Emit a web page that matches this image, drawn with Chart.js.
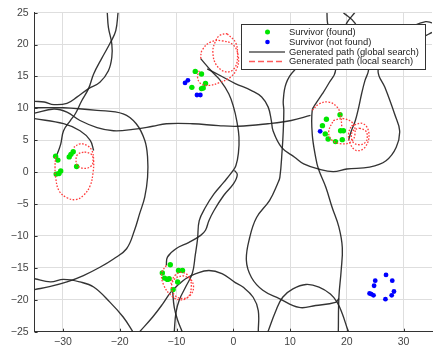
<!DOCTYPE html>
<html>
<head>
<meta charset="utf-8">
<script src="https://cdn.jsdelivr.net/npm/chart.js@4/dist/chart.umd.min.js"></script>
<style>
  html, body { margin: 0; padding: 0; background: #fff; }
  canvas { display: block; }
</style>
</head>
<body>
<canvas id="c" width="436" height="346"></canvas>
<script>
const xTicks = [-30, -20, -10, 0, 10, 20, 30];
const yTicks = [-25, -20, -15, -10, -5, 0, 5, 10, 15, 20, 25];

const legendLabels = ['Survivor (found)', 'Survivor (not found)', 'Generated path (global search)', 'Generated path (local search)'];

// survivors
const foundPts = [
  [-31.3, 2.5], [-30.9, 1.9], [-28.9, 2.4], [-28.6, 2.8], [-28.2, 3.2], [-27.6, 0.9], [-31.2, -0.3], [-30.7, -0.2], [-30.4, 0.2],
  [-6.7, 15.8], [-5.6, 15.4], [-4.9, 13.9], [-5.3, 13.2], [-5.6, 13.1], [-7.3, 13.3],
  [16.4, 8.3], [15.7, 7.3], [16.2, 6.0], [16.7, 5.2], [18.0, 4.8], [19.2, 5.1], [18.9, 6.5], [19.4, 6.5], [18.8, 9.0],
  [-11.1, -14.5], [-12.5, -15.8], [-12.1, -16.6], [-11.6, -16.8], [-11.3, -16.7], [-9.65, -15.4], [-8.95, -15.4], [-9.8, -17.2], [-10.6, -18.4]
];
const notFoundPts = [
  [-8.5, 14.0], [-8.0, 14.4], [-6.4, 12.1], [-5.8, 12.1],
  [15.3, 6.4],
  [26.9, -16.1], [28.0, -17.0], [25.0, -17.0], [24.8, -17.8], [28.3, -18.7], [27.9, -19.3], [24.0, -19.0], [24.3, -19.1], [24.7, -19.3], [26.8, -19.9]
];

// global search paths
const globalA = [[-22.2, 25], [-22.0, 22.7], [-21.4, 20.1], [-21.4, 18.0], [-22.0, 15.9], [-23.5, 14.1], [-25.5, 13.1], [-27.5, 11.8], [-29.3, 10.8], [-31.6, 10.6], [-33.3, 11.0], [-35, 11.1]];
const globalB = [[-20.3, 25], [-20.7, 22.2], [-21.6, 20.4], [-23.2, 17.8], [-24.6, 15.4], [-25.5, 13.1], [-26.7, 11.2], [-27.8, 9.2], [-28.7, 8.1], [-29.9, 6.5], [-30.4, 4.4], [-31.0, 2.9], [-31.3, 2.5]];
const globalC = [[-35, 10.1], [-29.9, 10.1], [-24.0, 9.7], [-19.4, 9.15], [-17.1, 7.6], [-15.6, 5.0], [-15.1, 2.35], [-15.1, -0.8], [-15.6, -3.9], [-16.5, -6.5], [-17.4, -9.1], [-18.8, -12.0], [-21.1, -13.6], [-23.5, -14.9], [-26.4, -16.2], [-29.3, -17.2], [-32.2, -17.9], [-35, -18.4]];
const globalD = [[-35, 9.25], [-31.6, 9.9], [-29.3, 9.4], [-27.0, 8.1], [-24.0, 7.0], [-21.1, 6.5], [-17.7, 6.7], [-14.2, 7.2], [-11.8, 7.6], [-7.2, 7.6], [-2.6, 7.3], [0.9, 7.2], [6.1, 7.6], [10.2, 8.1], [13.6, 8.9]];
const globalE = [[-35, 8.4], [-29.9, 7.6], [-27.0, 6.5], [-25.2, 5.0], [-24.6, 3.4]];
const globalF = [[-35, -16.7], [-32.2, -17.2], [-29.9, -16.8], [-27.0, -17.2], [-24.6, -18.0], [-21.7, -20.4], [-19.4, -22.7], [-17.7, -25]];
const globalG = [[16.5, 25], [16.6, 23.4], [17.5, 20], [18.0, 15.9], [16.8, 13.9], [15.7, 12.3], [14.5, 10.7], [13.9, 9.7], [13.9, 6.0], [14.5, 2.35], [15.0, 0.5], [16.3, -2.35], [17.4, -5.5], [18.6, -8.6], [19.2, -11.8], [19.0, -15.4], [18.6, -19.6], [18.5, -25]];
const globalH = [[-4.6, 16.2], [-2.0, 15.0], [0.35, 13.9], [3.2, 12.8], [5.0, 11.8], [6.15, 10.2], [6.7, 8.1], [7.0, 6.5], [8.5, 3.9], [10.8, 2.35], [12.4, 1.3], [15.0, 0.5], [17.6, 0.1], [20.0, 0.5], [24.0, 0.8], [26.9, 1.8], [28.7, 3.9], [29.3, 6.5], [28.4, 9.15], [27.6, 11.2], [26.7, 13.3], [25.5, 15.9], [27, 19], [30, 20.6], [33.3, 21.2], [35, 21.9]];
const globalI = [[-5.75, 17.8], [-3.7, 15.7], [-2.3, 14.4], [-0.8, 12.3], [0.05, 10.2], [0.6, 8.1], [1.0, 5.5], [0.9, 3.0], [0.45, 1.0], [-0.25, 0], [-1.7, -1.6], [-3.4, -3.4], [-4.9, -5.5], [-6.0, -7.6], [-6.3, -10.5], [-6.7, -13.0], [-7.2, -15.8], [-8.4, -18.0], [-9.5, -20.0], [-10.1, -22.0], [-10.4, -25]];
const globalJ = [[0.2, 0.3], [0.7, -0.4], [0.05, -1.8], [-1.7, -3.65], [-3.4, -6.0], [-4.3, -7.6], [-4.9, -9.1], [-5.75, -9.9], [-7.8, -11.0], [-10.1, -12.0], [-11.6, -13.3], [-11.8, -14.6]];
const globalK = [[-16.5, -25], [-14.2, -22.7], [-12.4, -20.6], [-11.0, -18.8], [-9.5, -17.5], [-8.4, -16.7], [-6.6, -15.9], [-4.3, -15.4], [-2.0, -15.9], [0.35, -17.3], [1.7, -18.0], [3.5, -19.6], [4.4, -21.7], [4.4, -25]];
const globalL = [[-10.7, -18.5], [-10.4, -21.2], [-9.8, -23.2], [-9.0, -25]];
const globalM = [[35, 23.4], [33.9, 23.6], [31.6, 22.9], [25, 20], [14, 18], [10.7, 15.9], [9.3, 13.9], [8.8, 11.2], [8.9, 9.7], [8.8, 6.5], [8.6, 3.4], [8.2, -0.8], [7.8, -1.8], [6.4, -4.4], [4.1, -7.1], [2.9, -10.2], [2.3, -13.8], [3.2, -16.5], [5.2, -18.5], [8.1, -19.8], [11.6, -21.2], [14.5, -20.9], [18.0, -20.4], [18.6, -19.8]];
const globalN = [[19.4, 25], [21.4, 23.4], [23.8, 19], [23.8, 15.9], [23.2, 14.4], [22.6, 12.3], [22.1, 10.2], [21.5, 8.1], [20.8, 6.5], [20.3, 5.0]];
const globalO = [[21.4, 25], [20.0, 23.4], [19, 21]];
const globalP = [[6.1, -25], [7.5, -21.7], [8.7, -19.6], [10.5, -18.3], [12.8, -17.6], [15.1, -18.0], [17.1, -19.1], [18.3, -20.4], [19.2, -22.2], [20.0, -24.3], [20.3, -25]];

// local search paths
const localA = [[-31.3, 2.4], [-31.4, 0.8], [-31.3, -0.8], [-30.7, -2.9], [-29.3, -4.0], [-27.8, -4.3], [-26.4, -3.65], [-25.2, -2.1], [-24.7, 0], [-24.6, 1.8], [-24.9, 3.4], [-25.8, 4.2], [-27.0, 4.45], [-28.1, 3.9]];
const localB = [[-26.2, 3.2], [-25.0, 2.8], [-24.7, 1.9], [-25.0, 1.0], [-26.2, 0.6], [-27.4, 1.0], [-27.7, 1.9], [-27.4, 2.8], [-26.2, 3.2]];
const localC = [[-1.1, 21.7], [0.35, 20.4], [0.75, 18.6], [0.35, 16.5], [-1.1, 15.7], [-2.9, 16.7], [-3.6, 18.8], [-3.1, 20.6], [-2.3, 21.5], [-1.1, 21.7]];
const localD = [[-5.75, 17.8], [-5.5, 19.1], [-4.0, 20.4], [-2.0, 20.6], [0.05, 19.9], [0.9, 18.0], [0.6, 16.2], [-0.5, 14.9], [-2.3, 14.1], [-4.3, 13.6], [-5.75, 13.9], [-6.3, 14.9], [-6.0, 15.9]];
const localE = [[13.9, 9.7], [15.1, 10.7], [16.8, 11.0], [18.3, 10.2], [18.9, 8.9], [19.1, 7.2]];
const localF = [[17.6, 8.1], [19.4, 8.4], [21.1, 7.6], [21.4, 5.75], [20.6, 4.7], [19.1, 4.45], [17.4, 5.0], [16.8, 6.3], [17.6, 8.1]];
const localG = [[20.8, 7.3], [22.9, 7.6], [23.9, 6.0], [23.2, 3.9], [21.7, 3.4], [20.6, 4.45], [20.3, 6.0], [20.8, 7.3]];
const localH = [[22.2, 6.9], [23.3, 6.5], [23.6, 5.6], [23.3, 4.7], [22.2, 4.3], [21.1, 4.7], [20.8, 5.6], [21.1, 6.5], [22.2, 6.9]];
const localI = [[-11.8, -14.6], [-12.6, -15.8], [-12.3, -17.6], [-11.0, -19.3], [-9.5, -20.0], [-8.0, -19.6], [-7.4, -18.0], [-7.8, -16.4], [-9.0, -15.7], [-10.3, -16.2], [-11.0, -17.5]];
const localJ = [[-8.95, -16.2], [-7.6, -16.7], [-7.0, -18.0], [-7.6, -19.3], [-8.95, -19.8], [-10.3, -19.3], [-10.9, -18.0], [-10.3, -16.7], [-8.95, -16.2]];

const globalPaths = [globalA, globalB, globalC, globalD, globalE, globalF, globalG, globalH, globalI, globalJ, globalK, globalL, globalM, globalN, globalO, globalP];
const localPaths = [localA, localB, localC, localD, localE, localF, localG, localH, localI, localJ];

const GREEN = '#00e600';
const BLUE = '#0000ff';
const BLACK = 'rgba(35,35,35,0.92)';
const RED = '#ff3b3b';
const FONT = '"Liberation Sans", Arial, sans-serif';

function toXY(pts) {
  return pts.map(([x, y]) => ({ x, y }));
}

function fmt(v) {
  return v < 0 ? '\u2212' + Math.abs(v) : String(v);
}

const datasets = [];
localPaths.forEach((p) => {
  datasets.push({ data: toXY(p), showLine: true, borderColor: RED, borderWidth: 1.3, borderDash: [1.6, 1.6], pointRadius: 0, tension: 0.4, fill: false });
});
datasets.push({ data: toXY(foundPts), backgroundColor: GREEN, borderWidth: 0, pointRadius: 2.7, showLine: false });
datasets.push({ data: toXY(notFoundPts), backgroundColor: BLUE, borderWidth: 0, pointRadius: 2.4, showLine: false });
globalPaths.forEach((p) => {
  datasets.push({ data: toXY(p), showLine: true, borderColor: BLACK, borderWidth: 1.35, pointRadius: 0, tension: 0.4, fill: false });
});

const extras = {
  id: 'extras',
  afterDraw(chart) {
    const { ctx, chartArea, scales } = chart;
    ctx.save();
    // small inward ticks
    ctx.strokeStyle = '#333';
    ctx.lineWidth = 1;
    ctx.beginPath();
    xTicks.forEach((v) => {
      const px = Math.round(scales.x.getPixelForValue(v)) + 0.5;
      ctx.moveTo(px, chartArea.bottom);
      ctx.lineTo(px, chartArea.bottom - 3);
    });
    yTicks.forEach((v) => {
      const py = Math.round(scales.y.getPixelForValue(v)) + 0.5;
      ctx.moveTo(chartArea.left, py);
      ctx.lineTo(chartArea.left + 3, py);
    });
    ctx.stroke();

    // legend box
    const bx = 241.5, by = 24.5, bw = 184, bh = 45;
    ctx.fillStyle = '#fff';
    ctx.fillRect(bx, by, bw, bh);
    ctx.strokeStyle = '#333';
    ctx.strokeRect(bx, by, bw, bh);
    const rows = [32, 42, 52, 61.5];
    ctx.fillStyle = GREEN;
    ctx.beginPath(); ctx.arc(267.5, rows[0], 2.5, 0, Math.PI * 2); ctx.fill();
    ctx.fillStyle = BLUE;
    ctx.beginPath(); ctx.arc(267.5, rows[1], 2.3, 0, Math.PI * 2); ctx.fill();
    ctx.lineWidth = 1.5;
    ctx.strokeStyle = '#555';
    ctx.beginPath(); ctx.moveTo(249, rows[2]); ctx.lineTo(285, rows[2]); ctx.stroke();
    ctx.strokeStyle = '#ff5a5a';
    ctx.setLineDash([6, 3]);
    ctx.beginPath(); ctx.moveTo(249, rows[3]); ctx.lineTo(285, rows[3]); ctx.stroke();
    ctx.setLineDash([]);
    ctx.fillStyle = '#1a1a1a';
    ctx.font = '9.4px ' + FONT;
    ctx.textBaseline = 'middle';
    ctx.textAlign = 'left';
    legendLabels.forEach((t, i) => ctx.fillText(t, 289, rows[i]));
    ctx.restore();
  }
};

new Chart(document.getElementById('c'), {
  type: 'scatter',
  data: { datasets },
  options: {
    responsive: false,
    animation: false,
    devicePixelRatio: 1,
    layout: { padding: { top: 12.7, right: 0, left: 0, bottom: 0 } },
    plugins: { legend: { display: false }, tooltip: { enabled: false } },
    scales: {
      x: {
        type: 'linear',
        min: -35,
        max: 35,
        afterBuildTicks: (s) => { s.ticks = xTicks.map((v) => ({ value: v })); },
        afterFit: (s) => { s.height = 14.3; },
        grid: { color: '#dedede', lineWidth: 1, drawTicks: false },
        border: { display: true, color: '#333', width: 1 },
        ticks: { color: '#444', padding: 4, font: { family: FONT, size: 10.5 }, callback: (v) => fmt(v), maxRotation: 0 }
      },
      y: {
        type: 'linear',
        min: -25,
        max: 25,
        afterBuildTicks: (s) => { s.ticks = yTicks.map((v) => ({ value: v })); },
        afterFit: (s) => { s.width = 34.6; },
        grid: { color: '#dedede', lineWidth: 1, drawTicks: false },
        border: { display: true, color: '#333', width: 1 },
        ticks: { color: '#444', padding: 6, font: { family: FONT, size: 10.5 }, callback: (v) => fmt(v) }
      }
    }
  },
  plugins: [extras]
});
</script>
</body>
</html>
